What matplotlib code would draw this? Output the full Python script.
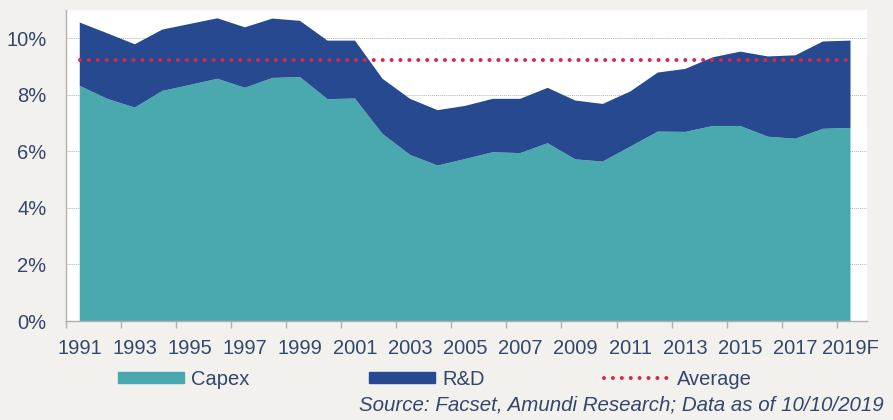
import numpy as np
import matplotlib.pyplot as plt
from matplotlib.patches import Patch
from matplotlib.lines import Line2D

plt.rcParams['font.family'] = ['Liberation Sans', 'DejaVu Sans']

# data (% of sales)
years = [str(y) for y in range(1991, 2019)] + ['2019F']
capex = [8.32, 7.86, 7.55, 8.14, 8.35, 8.57, 8.25, 8.60, 8.63, 7.85,
         7.87, 6.62, 5.88, 5.50, 5.73, 5.97, 5.94, 6.29, 5.72, 5.64,
         6.17, 6.70, 6.69, 6.90, 6.90, 6.52, 6.45, 6.80, 6.83]
rnd = [2.24, 2.32, 2.24, 2.17, 2.16, 2.14, 2.14, 2.10, 1.99, 2.07,
       2.05, 1.95, 1.98, 1.96, 1.88, 1.89, 1.92, 1.96, 2.08, 2.04,
       1.95, 2.09, 2.23, 2.43, 2.63, 2.84, 2.95, 3.09, 3.09]
average = 9.24

c_capex = '#4AA9AF'
c_rnd = '#27498F'
c_avg = '#D7294F'
c_text = '#33476B'
c_bg = '#F2F1ED'

fig = plt.figure(figsize=(8.93, 4.2), dpi=100, facecolor=c_bg)
ax = fig.add_axes([0.0739, 0.2357, 0.8970, 0.7403])
ax.set_facecolor('white')

x = np.arange(len(years))
ax.stackplot(x, capex, rnd, colors=[c_capex, c_rnd], zorder=2)
ax.plot(x, [average] * len(x), color=c_avg, lw=2.9,
        linestyle=(0, (0.01, 2.2)), dash_capstyle='round', zorder=3)

ax.set_xlim(-0.5, 28.6)
ax.set_ylim(0, 11)
ax.set_yticks(np.arange(0, 11, 2))
ax.set_yticklabels([f'{v}%' for v in range(0, 11, 2)])
ax.yaxis.grid(True, linestyle=(0, (1, 1)), color='#B4B4B4', lw=0.7, zorder=1)

ax.set_xticks(x[::2])
ax.set_xticklabels(years[::2])
ax.set_xticks(np.arange(-0.5, 28.6, 2), minor=True)
ax.tick_params(axis='x', which='major', length=0, pad=13, labelsize=14.5, labelcolor=c_text)
ax.tick_params(axis='x', which='minor', length=5, color='#B0B0B0', width=1)
ax.tick_params(axis='y', length=0, pad=14, labelsize=14.5, labelcolor=c_text)

for s in ['top', 'right']:
    ax.spines[s].set_visible(False)
for s in ['left', 'bottom']:
    ax.spines[s].set_color('#B0B0B0')
    ax.spines[s].set_linewidth(1)

handles = [Patch(color=c_capex), Patch(color=c_rnd),
           Line2D([], [], color=c_avg, lw=2.9, linestyle=(0, (0.01, 2.2)),
                  dash_capstyle='round')]
fig.legend(handles, ['Capex', 'R&D', 'Average'], loc='center', ncol=3,
           bbox_to_anchor=(0.487, 0.097), frameon=False, fontsize=14.5,
           handlelength=3.3, handleheight=0.5, handletextpad=0.36,
           columnspacing=5.9, labelcolor=c_text)

fig.text(0.989, 0.012, 'Source: Facset, Amundi Research; Data as of 10/10/2019',
         ha='right', va='bottom', style='italic', fontsize=14.8, color=c_text)

fig.savefig('out.png', dpi=100, facecolor=c_bg)
